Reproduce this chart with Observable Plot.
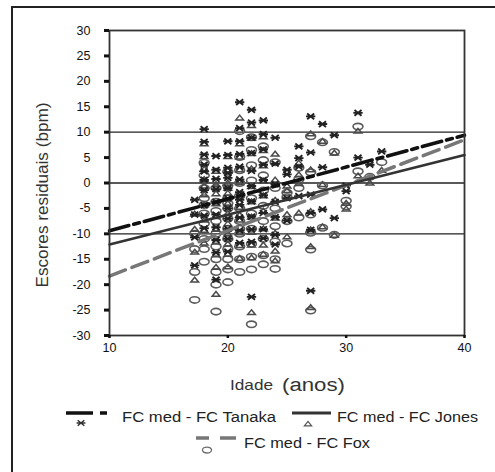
<!DOCTYPE html>
<html><head><meta charset="utf-8">
<script src="https://cdn.jsdelivr.net/npm/d3@7"></script>
<script src="https://cdn.jsdelivr.net/npm/@observablehq/plot@0.6"></script>
<style>body{margin:0;background:#fff;}</style>
</head><body><div id="chart"></div>
<script>
// Subject ages (anos)
const ages = [17.2,17.2,17.2,17.2, 18,18,18,18,18,18,18,18,18,18, 19,19,19,19,19,19,19,19,19,19,
  20,20,20,20,20,20,20,20,20,20,20,20, 21,21,21,21,21,21,21,21,21,21,21,21,
  22,22,22,22,22,22,22,22,22,22,22, 23,23,23,23,23,23,23,23,23, 24,24,24,24,24,24,24,
  25,25,25,25, 26,26,26,26, 27,27,27,27,27,27, 28,28,28, 29,29, 30,30, 31,31, 32, 33];
// Residuals FC med - FC Tanaka (bpm)
const tanaka = [-16.2,-10.7,-3.3,-6.2, 10.6,8.1,5.6,2.3,0.6,-1.4,-4.4,-6.4,-8.9,3.6,
  -19,-13.7,-11.2,-8.7,-6.2,-3.7,-1.2,2.6,5.3,0.8,
  8.2,5.5,3,1,-1,-3,-5,-7,-9,-11,-13.5,2,
  15.9,10.8,8.2,5.7,3.2,0.7,-1.8,-4.3,-6.8,-9.3,-11.8,-3.3,
  14.4,11.9,8.9,5.9,2.4,-0.6,-3.6,-6.6,-9.1,-11.6,-22.4,
  12.3,9.6,6.6,3.6,0.6,-2.4,-5.9,-9.1,-10.9,
  8.9,3.8,-0.2,-3.7,-6.7,-10.2,-12.1,
  2.6,-3,-7.4,1.7, 7.2,4.9,3.2,-2.6, 13.1,6,-5.9,-9.2,-21.2,-2.3,
  11.6,-5.2,3.1, 9.4,-6.9, -1.6,-0.5, 13.8,5, 3.6, 6.2];
// Residuals FC med - FC Jones (bpm)
const jones = [-19.1,-13.6,-6.1,-9.1, 7.7,5.2,2.7,-0.6,-2.3,-4.3,-7.3,-9.3,-11.8,0.7,
  -21.9,-16.6,-14.1,-11.6,-9.1,-6.6,-4.1,-0.3,2.3,-2.1,
  5.2,2.5,0,-2,-4,-6,-8,-10,-12,-14,-16.5,-1,
  12.8,7.7,5.1,2.6,0.1,-2.3,-4.8,-7.3,-9.8,-12.3,-14.8,-6.3,
  11.3,8.8,5.8,2.8,-0.7,-3.7,-6.7,-9.7,-12.2,-14.7,-25.5,
  9.1,6.4,3.4,0.4,-2.5,-5.5,-9,-12.2,-14,
  5.7,0.6,-3.4,-6.9,-9.9,-13.4,-15.3,
  -0.6,-6.2,-10.6,-1.5, 3.9,1.6,-0.1,-5.9, 9.7,2.6,-9.2,-12.5,-24.5,-5.6,
  8.2,-8.6,-0.3, 5.9,-10.3, -5.1,-4, 10.2,1.4, 0, 2.5];
// Residuals FC med - FC Fox (bpm)
const fox = [-23,-17.5,-10,-13, 4,1.5,-1,-4.3,-6,-8,-11,-13,-15.5,-3,
  -25.3,-20,-17.5,-15,-12.5,-10,-7.5,-3.7,-1,-5.5,
  2.2,-0.5,-3,-5,-7,-9,-11,-13,-15,-17,-19.5,-4,
  10.2,5.1,2.5,0,-2.5,-5,-7.5,-10,-12.5,-15,-17.5,-9,
  9,6.5,3.5,0.5,-3,-6,-9,-12,-14.5,-17,-27.8,
  7.2,4.5,1.5,-1.5,-4.5,-7.5,-11,-14.2,-16,
  4.1,-1,-5,-8.5,-11.5,-15,-16.9,
  -1.9,-7.5,-11.9,-2.8, 3,0.7,-1,-6.8, 9.2,2.1,-9.8,-13.1,-25.1,-6.2,
  8,-8.8,-0.5, 6.1,-10.2, -4.6,-3.5, 11.1,2.3, 1.2, 4.1];

// Regression line end points
const lineX = [10, 40];
const tanakaLine = [-9.4, 9.4];
const jonesLine = [-12.1, 5.5];
const foxLine = [-18.3, 8.5];

const refLines = [10, 0, -10];
const xTicks = [10, 20, 30, 40];
const yTicks = [-30, -25, -20, -15, -10, -5, 0, 5, 10, 15, 20, 25, 30];
const seriesNames = ["FC med - FC Tanaka", "FC med - FC Jones", "FC med - FC Fox"];
const xLabel = ["Idade", "(anos)"];
const yLabel = "Escores residuais (bpm)";

const pts = ages.map((a, i) => ({age: a, t: tanaka[i], j: jones[i], f: fox[i]}));
const lines = lineX.map((x, i) => ({x, t: tanakaLine[i], j: jonesLine[i], f: foxLine[i]}));

function rad(size) { return Math.sqrt(size / Math.PI); }
const ellipseSym = {draw(ctx, size) {
  const r = rad(size), rx = r * 1.3, ry = r * 0.85, k = 0.5523;
  ctx.moveTo(rx, 0);
  ctx.bezierCurveTo(rx, ry * k, rx * k, ry, 0, ry);
  ctx.bezierCurveTo(-rx * k, ry, -rx, ry * k, -rx, 0);
  ctx.bezierCurveTo(-rx, -ry * k, -rx * k, -ry, 0, -ry);
  ctx.bezierCurveTo(rx * k, -ry, rx, -ry * k, rx, 0);
  ctx.closePath();
}};
const triSym = {draw(ctx, size) {
  const r = rad(size), rx = r * 1.1, ry = r * 0.8;
  ctx.moveTo(0, -ry); ctx.lineTo(rx, ry * 0.7); ctx.lineTo(-rx, ry * 0.7); ctx.closePath();
}};
const astSym = {draw(ctx, size) {
  const r = rad(size), rx = r * 1.3, ry = r * 0.8;
  ctx.moveTo(-rx, 0); ctx.lineTo(rx, 0);
  ctx.moveTo(-rx * 0.75, -ry); ctx.lineTo(rx * 0.75, ry);
  ctx.moveTo(-rx * 0.75, ry); ctx.lineTo(rx * 0.75, -ry);
}};

const chart = Plot.plot({
  width: 495, height: 472,
  marginTop: 30, marginLeft: 109, marginRight: 31, marginBottom: 137,
  style: {fontFamily: "'Liberation Sans', Arial, sans-serif", fontSize: "12.5px", color: "#111", background: "transparent", overflow: "visible"},
  x: {domain: [10, 40], label: null},
  y: {domain: [-30, 30], label: null},
  marks: [
    Plot.ruleY(refLines, {stroke: "#222", strokeWidth: 1.3}),
    Plot.dot(pts, {x: "age", y: "f", symbol: ellipseSym, r: 3.8, stroke: "#5c5c5c", strokeWidth: 1.6, fill: "none"}),
    Plot.dot(pts, {x: "age", y: "j", symbol: triSym, r: 3.5, stroke: "#4a4a4a", strokeWidth: 1.5, fill: "none"}),
    Plot.dot(pts, {x: "age", y: "t", symbol: astSym, r: 3.6, stroke: "#222", strokeWidth: 1.9, fill: "none"}),
    Plot.line(lines, {x: "x", y: "f", stroke: "#777", strokeWidth: 3.5, strokeDasharray: "17,7"}),
    Plot.line(lines, {x: "x", y: "j", stroke: "#333", strokeWidth: 2.6}),
    Plot.line(lines, {x: "x", y: "t", stroke: "#111", strokeWidth: 3.6, strokeDasharray: "20,5,6,5"}),
    Plot.frame({stroke: "#333", strokeWidth: 1.8}),
    Plot.axisY(yTicks, {tickSize: 5, tickPadding: 14, strokeWidth: 3, tickFormat: d => String(d), label: null}),
    Plot.axisX(xTicks, {tickSize: 3, tickPadding: 5, strokeWidth: 2.5, tickFormat: d => String(d), label: null})
  ]
});

const svg = d3.select(chart);
const ff = "'Liberation Sans', Arial, sans-serif";
// outer figure border
svg.append("path").attr("d", "M12,480V7H500").attr("fill", "none").attr("stroke", "#222").attr("stroke-width", 2);
// y label
svg.append("text").attr("transform", "translate(48,195) rotate(-90)").attr("text-anchor", "middle")
  .attr("font-family", ff).attr("font-size", 16).attr("fill", "#333")
  .attr("textLength", 185).attr("lengthAdjust", "spacingAndGlyphs").text(yLabel);
// x label
svg.append("text").attr("x", 230).attr("y", 390).attr("text-anchor", "start").attr("font-family", ff).attr("font-size", 15).attr("fill", "#333")
  .attr("textLength", 43).attr("lengthAdjust", "spacingAndGlyphs").text(xLabel[0]);
svg.append("text").attr("x", 282).attr("y", 391).attr("text-anchor", "start").attr("font-family", ff).attr("font-size", 18).attr("fill", "#333")
  .attr("textLength", 63).attr("lengthAdjust", "spacingAndGlyphs").text(xLabel[1]);

function symPath(sym, size) { const p = d3.path(); sym.draw(p, size); return p.toString(); }
const lg = svg.append("g").attr("font-family", ff).attr("font-size", 14).attr("fill", "#222").attr("text-anchor", "start");
// Tanaka
lg.append("path").attr("d", "M66,413H93M100,413H107").attr("stroke", "#111").attr("stroke-width", 3.6).attr("fill", "none");
lg.append("path").attr("d", symPath(astSym, Math.PI * 3.4 * 3.4)).attr("transform", "translate(81,423)").attr("stroke", "#333").attr("stroke-width", 1.5).attr("fill", "none");
lg.append("text").attr("x", 122).attr("y", 422).attr("text-anchor", "start").attr("textLength", 154).attr("lengthAdjust", "spacingAndGlyphs").text(seriesNames[0]);
// Jones
lg.append("path").attr("d", "M292,413H331").attr("stroke", "#333").attr("stroke-width", 3).attr("fill", "none");
lg.append("path").attr("d", symPath(triSym, Math.PI * 3.3 * 3.3)).attr("transform", "translate(308,424)").attr("stroke", "#555").attr("stroke-width", 1.2).attr("fill", "none");
lg.append("text").attr("x", 337).attr("y", 422).attr("text-anchor", "start").attr("textLength", 141).attr("lengthAdjust", "spacingAndGlyphs").text(seriesNames[1]);
// Fox
lg.append("path").attr("d", "M196,438H209M220,438H236").attr("stroke", "#777").attr("stroke-width", 3.5).attr("fill", "none");
lg.append("path").attr("d", symPath(ellipseSym, Math.PI * 3.5 * 3.5)).attr("transform", "translate(207,450)").attr("stroke", "#6e6e6e").attr("stroke-width", 1.3).attr("fill", "none");
lg.append("text").attr("x", 244).attr("y", 448).attr("text-anchor", "start").attr("textLength", 126).attr("lengthAdjust", "spacingAndGlyphs").text(seriesNames[2]);

document.getElementById("chart").appendChild(chart);
</script>
</body></html>
